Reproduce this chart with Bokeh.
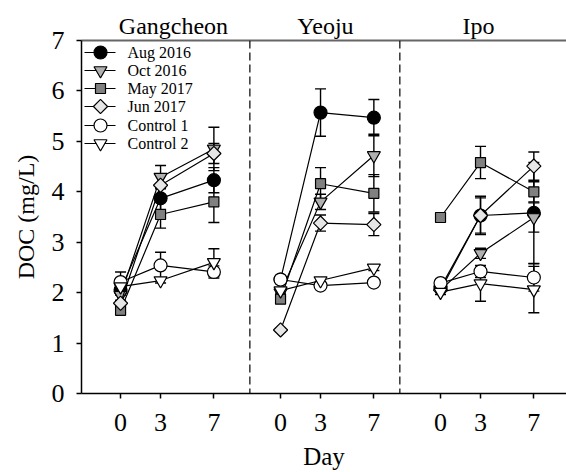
from bokeh.plotting import figure
from bokeh.models import (ColumnDataSource, Range1d, FixedTicker, Span, Whisker,
                          TeeHead, Label, LinearAxis)
from bokeh.embed import file_html
from bokeh.resources import INLINE

# ---------------- data ----------------
days = [0, 3, 7]
sites = ["Gangcheon", "Yeoju", "Ipo"]
day_tick_labels = ["0", "3", "7"]
series_names = ["Aug 2016", "Oct 2016", "May 2017", "Jun 2017", "Control 1", "Control 2"]

# values ordered: Gangcheon d0,d3,d7, Yeoju d0,d3,d7, Ipo d0,d3,d7
aug_2016_mean = [2.05, 3.87, 4.23, 2.26, 5.57, 5.47, 2.10, 3.53, 3.58]
aug_2016_err = [0.10, 0.22, 0.25, 0.05, 0.47, 0.36, 0.05, 0.35, 1.00]
oct_2016_mean = [1.95, 4.29, 4.85, 2.00, 3.80, 4.72, 2.05, 2.78, 3.49]
oct_2016_err = [0.10, 0.23, 0.43, 0.05, 0.15, 0.42, 0.05, 0.10, 0.29]
may_2017_mean = [1.65, 3.55, 3.80, 1.87, 4.16, 3.97, 3.49, 4.58, 4.00]
may_2017_err = [0.05, 0.27, 0.41, 0.05, 0.32, 0.37, 0.05, 0.32, 0.20]
jun_2017_mean = [1.79, 4.13, 4.76, 1.26, 3.38, 3.35, 2.05, 3.53, 4.51]
jun_2017_err = [0.05, 0.20, 0.20, 0.03, 0.16, 0.22, 0.05, 0.38, 0.28]
control_1_mean = [2.21, 2.54, 2.41, 2.26, 2.14, 2.20, 2.19, 2.42, 2.30]
control_1_err = [0.20, 0.26, 0.12, 0.05, 0.05, 0.05, 0.05, 0.12, 0.27]
control_2_mean = [2.12, 2.24, 2.60, 2.04, 2.24, 2.49, 2.01, 2.18, 2.06]
control_2_err = [0.10, 0.05, 0.27, 0.05, 0.05, 0.05, 0.05, 0.35, 0.46]

means = [aug_2016_mean, oct_2016_mean, may_2017_mean, jun_2017_mean, control_1_mean, control_2_mean]
errs = [aug_2016_err, oct_2016_err, may_2017_err, jun_2017_err, control_1_err, control_2_err]

# ---------------- style ----------------
FONT = "Liberation Serif"
SITE_GAP = 12  # days of axis space per site panel
TITLE_POS = [3.97, 15.37, 26.85]  # where the site names sit along the axis
SEPARATORS = [9.7, 20.95]
styles = [
    dict(marker="circle", size=13, fill="#000000", angle=0.0),
    dict(marker="inverted_triangle", size=13, fill="#b0b0b0", angle=0.0),
    dict(marker="square", size=10, fill="#808080", angle=0.0),
    dict(marker="square", size=10, fill="#e6e6e6", angle=0.785398),
    dict(marker="circle", size=13, fill="#ffffff", angle=0.0),
    dict(marker="inverted_triangle", size=13, fill="#ffffff", angle=0.0),
]

W, H = 566, 472
ML, MR, MT, MB = 81, 0, 40, 79
FW, FH = W - ML - MR, H - MT - MB

p = figure(width=W, height=H, output_backend="svg", toolbar_location=None,
           x_range=Range1d(-2.93, 33.45), y_range=Range1d(0, 7),
           min_border_left=ML, min_border_right=MR, min_border_top=MT,
           min_border_bottom=MB)
p.extra_x_ranges = {"px": Range1d(0, FW)}
p.extra_y_ranges = {"px": Range1d(0, FH)}
p.outline_line_color = None
p.grid.visible = False
p.background_fill_color = "white"
p.border_fill_color = "white"

bottom = p.below[0]
left = p.left[0]

# axes
for ax in (bottom, left):
    ax.axis_line_color = "black"
    ax.axis_line_width = 1.5
    ax.major_tick_line_color = "black"
    ax.major_tick_line_width = 1.5
    ax.major_tick_out = 5
    ax.major_tick_in = 0
    ax.minor_tick_line_color = None
    ax.major_label_text_font = FONT
    ax.major_label_text_font_size = "26px"
    ax.major_label_text_color = "black"
    ax.axis_label_text_font = FONT
    ax.axis_label_text_font_style = "normal"
    ax.axis_label_text_color = "black"

x_ticks = [i * SITE_GAP + d for i in range(len(sites)) for d in days]
bottom.ticker = FixedTicker(ticks=x_ticks)
bottom.major_label_overrides = {t: day_tick_labels[k % 3] for k, t in enumerate(x_ticks)}
bottom.axis_label = "Day"
bottom.axis_label_text_font_size = "25px"
bottom.major_label_standoff = 15
bottom.axis_label_standoff = 9
left.ticker = FixedTicker(ticks=list(range(0, 8)))
left.axis_label = "DOC (mg/L)"
left.axis_label_text_font_size = "24px"
left.major_label_standoff = 12
left.axis_label_standoff = 10

# site names as an axis above (its line is the grey top border)
top = LinearAxis(ticker=FixedTicker(ticks=TITLE_POS),
                 major_label_overrides={t: s for t, s in zip(TITLE_POS, sites)})
top.axis_line_color = "#666666"
top.axis_line_width = 2
top.major_tick_line_color = None
top.minor_tick_line_color = None
top.major_tick_out = 0
top.major_tick_in = 0
top.major_label_standoff = 2
top.major_label_text_font = FONT
top.major_label_text_font_size = "24px"
top.major_label_text_font_style = "normal"
top.major_label_text_color = "black"
p.add_layout(top, "above")

# panel separators
for sx in SEPARATORS:
    p.add_layout(Span(location=sx, dimension="height", line_color="black",
                      line_width=1.2, line_dash="8 4"))

# data series
for name, m, e, st in zip(series_names, means, errs, styles):
    xs, ys = [], []
    for i in range(len(sites)):
        xs += [i * SITE_GAP + d for d in days] + [float("nan")]
        ys += m[i * 3:(i + 1) * 3] + [float("nan")]
    p.line(xs, ys, line_color="black", line_width=1.2)
    xpts = [i * SITE_GAP + d for i in range(len(sites)) for d in days]
    src = ColumnDataSource(dict(x=xpts, y=m,
                                up=[a + b for a, b in zip(m, e)],
                                lo=[a - b for a, b in zip(m, e)]))
    p.add_layout(Whisker(source=src, base="x", upper="up", lower="lo",
                         dimension="height", line_color="black", line_width=1.4,
                         upper_head=TeeHead(size=11, line_color="black", line_width=1.4),
                         lower_head=TeeHead(size=11, line_color="black", line_width=1.4)))
    p.scatter("x", "y", source=src, marker=st["marker"], size=st["size"],
              angle=st["angle"], fill_color=st["fill"], line_color="black",
              line_width=1.2)

# legend (pixel coordinates inside the frame)
leg_y = [341, 323, 305, 287, 268, 250]
for name, st, ly in zip(series_names, styles, leg_y):
    p.line([3, 34], [ly, ly], x_range_name="px", y_range_name="px",
           line_color="black", line_width=1.2)
    p.scatter([19], [ly], x_range_name="px", y_range_name="px",
              marker=st["marker"], size=st["size"], angle=st["angle"],
              fill_color=st["fill"], line_color="black", line_width=1.2)
    p.add_layout(Label(x=46, y=ly, x_units="screen", y_units="screen", text=name,
                       text_font=FONT, text_font_size="16px", text_align="left",
                       text_baseline="middle", text_color="black"))

open("out.html", "w").write(file_html(p, INLINE))
